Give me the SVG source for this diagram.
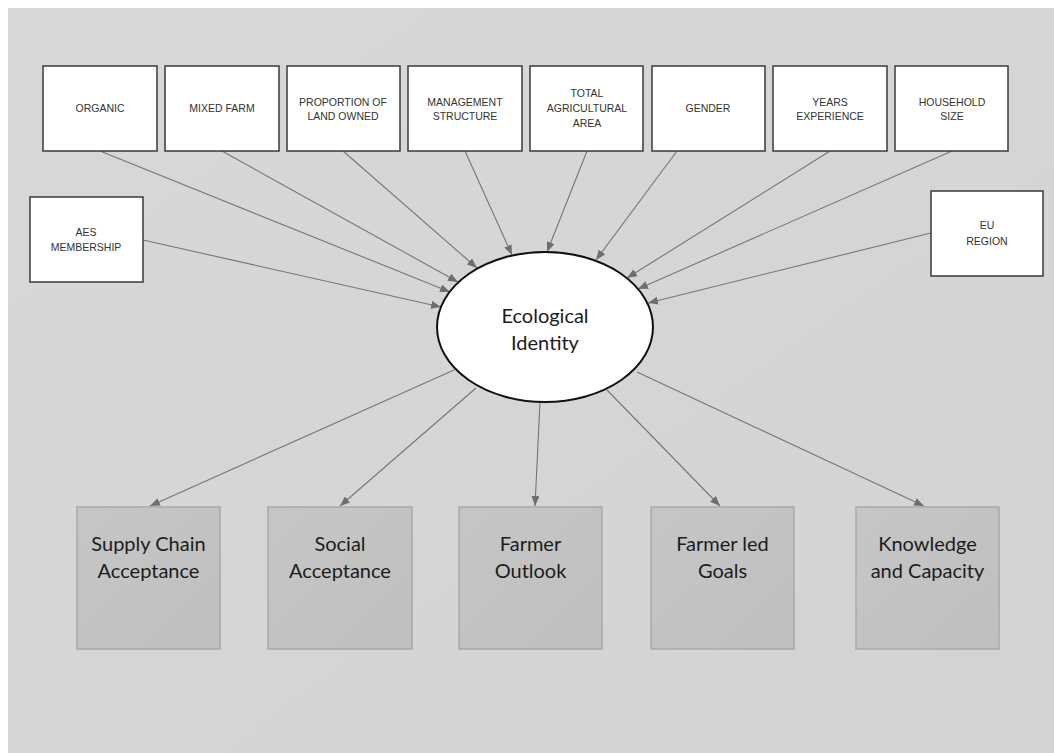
<svg xmlns="http://www.w3.org/2000/svg" width="1054" height="753" viewBox="0 0 1054 753">
<defs>
<marker id="arr" markerUnits="userSpaceOnUse" markerWidth="11" markerHeight="8" refX="10" refY="4" orient="auto">
<path d="M0,0 L10,4 L0,8 z" fill="#6e6e6e"/>
</marker>
<linearGradient id="bg" x1="0" y1="0" x2="1" y2="1">
<stop offset="0" stop-color="#d8d8d8"/>
<stop offset="1" stop-color="#d3d3d3"/>
</linearGradient>
<linearGradient id="gb" x1="0" y1="0" x2="1" y2="1">
<stop offset="0" stop-color="#c6c6c6"/>
<stop offset="1" stop-color="#bfbfbf"/>
</linearGradient>
</defs>
<style>
.top{fill:#ffffff;stroke:#3a3a3a;stroke-width:1.5}
.tt{font-family:"Liberation Sans",Arial,sans-serif;font-size:10.5px;fill:#333;text-anchor:middle}
.bot{fill:url(#gb);stroke:#a9a9a9;stroke-width:1.5}
.bt{font-family:Lato,"Open Sans",sans-serif;font-size:20px;fill:#1c1c1c;text-anchor:middle}
.con line{stroke:#767676;stroke-width:1.1;marker-end:url(#arr)}
</style>
<rect x="0" y="0" width="1054" height="753" fill="#ffffff"/>
<rect x="8" y="8" width="1046" height="745" fill="url(#bg)"/>

<g class="con" id="connectors">
<line x1="100" y1="151" x2="450" y2="292"/>
<line x1="222" y1="151" x2="458" y2="282"/>
<line x1="343" y1="151" x2="477" y2="268"/>
<line x1="465" y1="151" x2="512" y2="255"/>
<line x1="587" y1="151" x2="547" y2="252"/>
<line x1="677" y1="151" x2="596" y2="260"/>
<line x1="830" y1="151" x2="627" y2="278"/>
<line x1="952" y1="151" x2="638" y2="289"/>
<line x1="143" y1="240" x2="441" y2="307"/>
<line x1="931" y1="233" x2="648" y2="303"/>
<line x1="454" y1="370" x2="150" y2="506"/>
<line x1="476" y1="388" x2="340" y2="506"/>
<line x1="540" y1="402" x2="535" y2="506"/>
<line x1="607" y1="390" x2="720" y2="506"/>
<line x1="637" y1="372" x2="924" y2="506"/>
</g>

<g id="n-organic"><rect class="top" x="43" y="66" width="114" height="85"/><text class="tt" x="100" y="112">ORGANIC</text></g>
<g id="n-mixed"><rect class="top" x="165" y="66" width="114" height="85"/><text class="tt" x="222" y="112">MIXED FARM</text></g>
<g id="n-proportion"><rect class="top" x="287" y="66" width="113" height="85"/><text class="tt" x="343" y="106">PROPORTION OF</text><text class="tt" x="343" y="120">LAND OWNED</text></g>
<g id="n-management"><rect class="top" x="408" y="66" width="114" height="85"/><text class="tt" x="465" y="106">MANAGEMENT</text><text class="tt" x="465" y="120">STRUCTURE</text></g>
<g id="n-total"><rect class="top" x="530" y="66" width="113" height="85"/><text class="tt" x="587" y="97">TOTAL</text><text class="tt" x="587" y="112">AGRICULTURAL</text><text class="tt" x="587" y="127">AREA</text></g>
<g id="n-gender"><rect class="top" x="652" y="66" width="113" height="85"/><text class="tt" x="708" y="112">GENDER</text></g>
<g id="n-years"><rect class="top" x="773" y="66" width="114" height="85"/><text class="tt" x="830" y="106">YEARS</text><text class="tt" x="830" y="120">EXPERIENCE</text></g>
<g id="n-household"><rect class="top" x="895" y="66" width="113" height="85"/><text class="tt" x="952" y="106">HOUSEHOLD</text><text class="tt" x="952" y="120">SIZE</text></g>
<g id="n-aes"><rect class="top" x="30" y="197" width="113" height="85"/><text class="tt" x="86" y="236">AES</text><text class="tt" x="86" y="251">MEMBERSHIP</text></g>
<g id="n-eu"><rect class="top" x="931" y="191" width="112" height="85"/><text class="tt" x="987" y="229">EU</text><text class="tt" x="987" y="245">REGION</text></g>

<g id="n-eco"><ellipse cx="545" cy="327" rx="108" ry="75" fill="#ffffff" stroke="#111" stroke-width="2"/><text class="bt" x="545" y="323">Ecological</text><text class="bt" x="545" y="350">Identity</text></g>

<g id="n-supply"><rect class="bot" x="77" y="507" width="143" height="142"/><text class="bt" x="148.5" y="551">Supply Chain</text><text class="bt" x="148.5" y="578">Acceptance</text></g>
<g id="n-social"><rect class="bot" x="268" y="507" width="144" height="142"/><text class="bt" x="340" y="551">Social</text><text class="bt" x="340" y="578">Acceptance</text></g>
<g id="n-outlook"><rect class="bot" x="459" y="507" width="143" height="142"/><text class="bt" x="530.5" y="551">Farmer</text><text class="bt" x="530.5" y="578">Outlook</text></g>
<g id="n-goals"><rect class="bot" x="651" y="507" width="143" height="142"/><text class="bt" x="722.5" y="551">Farmer led</text><text class="bt" x="722.5" y="578">Goals</text></g>
<g id="n-knowledge"><rect class="bot" x="856" y="507" width="143" height="142"/><text class="bt" x="927.5" y="551">Knowledge</text><text class="bt" x="927.5" y="578">and Capacity</text></g>
</svg>
